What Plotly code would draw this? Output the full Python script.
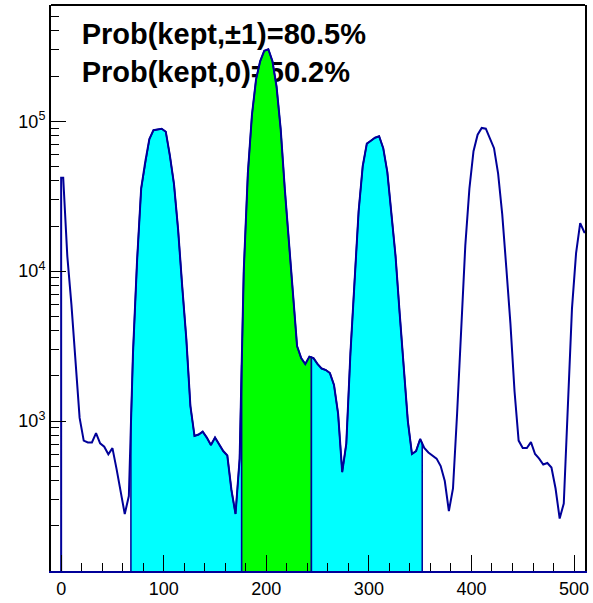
import numpy as np
import plotly.graph_objects as go

# ---------------- data ----------------
bin_width = 4
bin_start = 0
counts = [
    42000, 12600, 6000, 2500, 1050, 740, 720, 720, 830, 710,
    675, 600, 660, 480, 330, 240, 316, 2800, 11700, 35500,
    53700, 75900, 87100, 88100, 89100, 85100, 58900, 38000, 19000, 7940,
    3550, 1260, 795, 813, 850, 776, 692, 776, 692, 631,
    589, 347, 240, 560, 10000, 44700, 110000, 190000, 251000, 295000,
    302000, 251000, 170000, 89000, 35500, 15800, 7080, 3160, 2630, 2400,
    2690, 2630, 2400, 2240, 2190, 2090, 1740, 1120, 457, 708,
    2820, 8510, 25100, 50100, 70800, 74100, 77600, 79400, 66100, 45700,
    25100, 12600, 5250, 2240, 1000, 603, 631, 759, 661, 617,
    589, 562, 501, 398, 251, 355, 1120, 3980, 14800, 35500,
    63100, 81300, 90200, 89100, 75900, 66100, 44700, 24000, 10500, 4470,
    1580, 741, 661, 661, 724, 603, 562, 513, 525, 490,
    355, 224, 282, 1410, 5620, 13200, 20900, 18200,
]
# kept regions: (low edge, high edge, colour)
region_lo = [68, 176, 244]
region_hi = [176, 244, 352]
region_col = ["#00FFFF", "#00FF00", "#00FFFF"]

labels = ["Prob(kept,\u00b11)=80.5%", "Prob(kept,0)=50.2%"]
label_x = [20, 20]
label_y = [3.66e5, 2.05e5]

x_major = [0, 100, 200, 300, 400, 500]
y_major = [1e3, 1e4, 1e5]
y_major_text = ["10<sup>3</sup>", "10<sup>4</sup>", "10<sup>5</sup>"]

# ---------------- build ----------------
counts = np.array(counts, dtype=float)
edges = bin_start + bin_width * np.arange(len(counts) + 1)
centers = 0.5 * (edges[:-1] + edges[1:])
logc = np.log10(counts)
BASE = 1.0  # below visible log range (bottom = 100)


def level_at(x):
    return 10 ** np.interp(x, centers, logc)


NAVY = "#000099"
FONT = "Liberation Sans, Arial, Helvetica, sans-serif"

fig = go.Figure()

# text drawn first so the histogram covers it (as in the original)
fig.add_trace(go.Scatter(
    x=label_x, y=label_y, mode="text",
    text=["<b>%s</b>" % t for t in labels],
    textposition="middle right",
    textfont=dict(family=FONT, size=29, color="black"),
    hoverinfo="skip", showlegend=False,
))

for lo, hi, col in zip(region_lo, region_hi, region_col):
    inside = (centers > lo) & (centers < hi)
    xs = [lo, lo] + list(centers[inside]) + [hi, hi]
    ys = [BASE, level_at(lo)] + list(counts[inside]) + [level_at(hi), BASE]
    fig.add_trace(go.Scatter(
        x=xs, y=ys, mode="lines", fill="toself", fillcolor=col,
        line=dict(color=NAVY, width=1.5), hoverinfo="skip", showlegend=False,
    ))

xs = [edges[0], edges[0]] + list(centers) + [edges[-1]]
ys = [BASE, counts[0]] + list(counts) + [counts[-1]]
fig.add_trace(go.Scatter(
    x=xs, y=ys, mode="lines", line=dict(color=NAVY, width=2),
    hoverinfo="skip", showlegend=False,
))

y_minor = [m * 10 ** e for e in (2, 3, 4, 5) for m in range(2, 10) if m * 10 ** e < 6e5]

fig.update_layout(
    width=593, height=603,
    margin=dict(l=51, r=4, t=5, b=30),
    paper_bgcolor="white", plot_bgcolor="white",
    font=dict(family=FONT, size=18, color="black"),
    showlegend=False,
    xaxis=dict(
        range=[-9.9, 510.7], showgrid=False, zeroline=False,
        showline=True, linecolor=NAVY, linewidth=2, mirror=False,
        tickvals=x_major, ticks="inside", ticklen=16, tickwidth=1, tickcolor="black",
        tickfont=dict(family=FONT, size=18, color="black"),
        minor=dict(dtick=20, tick0=0, ticks="inside", ticklen=8, tickwidth=1,
                   tickcolor="black", showgrid=False),
    ),
    yaxis=dict(
        type="log", range=[2.0, 5.775], showgrid=False, zeroline=False,
        showline=True, linecolor="black", linewidth=2, mirror=True,
        tickvals=y_major, ticktext=y_major_text,
        ticks="inside", ticklen=15, tickwidth=1, tickcolor="black",
        tickfont=dict(family=FONT, size=18, color="black"),
        minor=dict(tickvals=y_minor, ticks="inside", ticklen=8, tickwidth=1,
                   tickcolor="black", showgrid=False),
    ),
    shapes=[dict(type="line", xref="paper", yref="paper", x0=0, x1=1, y0=1, y1=1,
                 line=dict(color="black", width=2), layer="above")],
)

fig.write_html("out.html", config={"displayModeBar": False},
               post_script="document.body.style.margin='0';")
